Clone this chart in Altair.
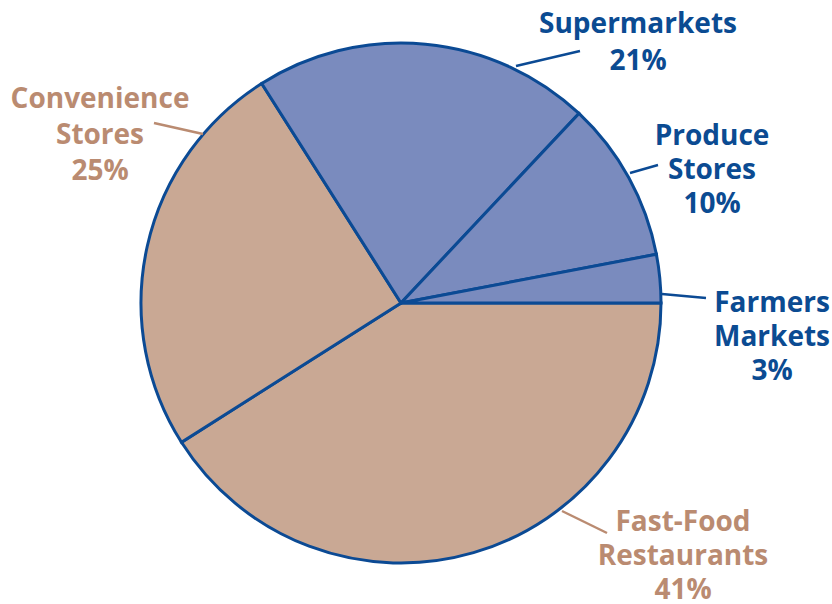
import math
import altair as alt
import pandas as pd

# ---- data ----
categories = ["Fast-Food Restaurants", "Convenience Stores", "Supermarkets", "Produce Stores", "Farmers Markets"]
shares = [41, 25, 21, 10, 3]
groups = ["Away", "Away", "Store", "Store", "Store"]
label_names = ["Fast-Food\nRestaurants", "Convenience\nStores", "Supermarkets", "Produce\nStores", "Farmers\nMarkets"]

df = pd.DataFrame({
    "category": categories,
    "share": shares,
    "group": groups,
    "name": label_names,
    "order": list(range(len(categories))),
})
df["label"] = df["name"] + "\n" + df["share"].astype(str) + "%"

# ---- styles ----
TAN = "#C9A894"
BLUE = "#7A8BBE"
STROKE = "#0B4A94"
BLUE_TXT = "#0B4B92"
TAN_TXT = "#BA8B71"
CX, CY, R = 401, 303, 260

base = alt.Chart(df)

pie = base.mark_arc(
    outerRadius=R, stroke=STROKE, strokeWidth=3, x=CX, y=CY
).encode(
    theta=alt.Theta("share:Q", stack=True,
                    scale=alt.Scale(range=[math.pi / 2, math.pi / 2 + 2 * math.pi])),
    color=alt.Color("group:N", scale=alt.Scale(domain=["Away", "Store"], range=[TAN, BLUE]), legend=None),
    order=alt.Order("order:Q"),
)

# label layout: (text x, first baseline y, line height, leader x1, y1, x2, y2, text colour, leader colour)
layout = {
    "Supermarkets": (638, 33, 37, 516, 66, 580, 51, BLUE_TXT, STROKE),
    "Produce Stores": (712, 145, 34, 630, 173, 658, 165, BLUE_TXT, STROKE),
    "Farmers Markets": (772, 312, 34, 662, 294, 706, 298, BLUE_TXT, STROKE),
    "Fast-Food Restaurants": (683, 531, 34, 562, 511, 607, 533, TAN_TXT, TAN_TXT),
    "Convenience Stores": (100, 108, 36, 154, 123, 203, 134, TAN_TXT, TAN_TXT),
}

layers = [pie]
for cat, (tx, ty, lh, x1, y1, x2, y2, tcol, lcol) in layout.items():
    sub = base.transform_filter(alt.datum.category == cat)
    layers.append(
        sub.mark_rule(color=lcol, strokeWidth=2.5).encode(
            x=alt.value(x1), y=alt.value(y1), x2=alt.value(x2), y2=alt.value(y2)
        )
    )
    layers.append(
        sub.mark_text(
            x=tx, y=ty, align="center", baseline="alphabetic", lineBreak="\n",
            lineHeight=lh, font="Open Sans", fontWeight="bold", fontSize=28, color=tcol,
        ).encode(text="label:N")
    )

chart = alt.layer(*layers).properties(
    width=832, height=604, autosize=alt.AutoSizeParams(type="none"), padding=0
).configure_view(stroke=None)

chart.save("out.html", embed_options={"renderer": "svg", "actions": False})
